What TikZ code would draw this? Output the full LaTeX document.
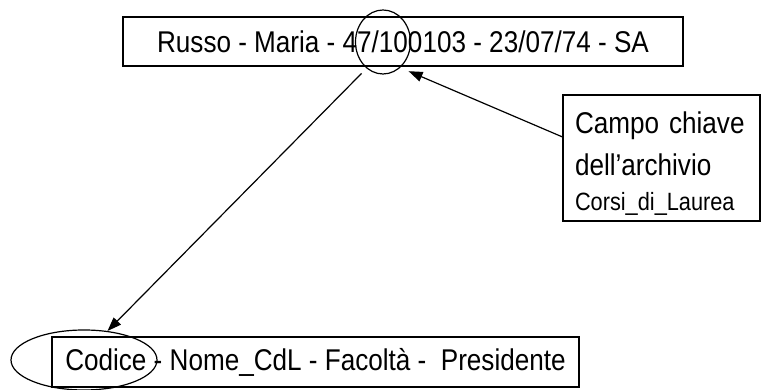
\documentclass[tikz,border=0pt]{standalone}
\usepackage{fontspec}
\setmainfont{Liberation Sans}[FakeStretch=0.87]
\usetikzlibrary{shapes.geometric,arrows.meta}

\begin{document}
\begin{tikzpicture}[x=1pt, y=1pt, line width=1.2pt, >={Triangle[length=14pt, width=10pt]}]
      \useasboundingbox (0,0) rectangle (761,390);
      \node[draw, minimum width=560pt, minimum height=49pt, font=\fontsize{30}{32}\selectfont] (rec) at (403,348.5) {Russo - Maria - 47/100103 - 23/07/74 - SA};
      \node[draw, ellipse, minimum width=55pt, minimum height=64pt, inner sep=0pt] (key) at (383,348) {};

      \node[draw, minimum width=527pt, minimum height=50pt, font=\fontsize{30}{32}\selectfont] (cdl) at (315.5,28) {Codice - Nome\_CdL - Facoltà - \ Presidente};
      \node[draw, ellipse, minimum width=146pt, minimum height=60pt, inner sep=0pt] (codice) at (84,30) {};

      \node[draw, text width=173pt, inner xsep=12pt, minimum height=126pt, align=left, font=\fontsize{30}{42}\selectfont] (campo) at (661.5,232) {\rule{0pt}{32pt}Campo chiave\\ dell’archivio\\[-7pt] {\fontsize{25}{35}\selectfont Corsi\_di\_Laurea}};

      \draw[->, shorten <=7pt] (key.238) -- (codice.51);
      \draw[->, shorten >=9pt] (campo.168) -- (key.304);
    \end{tikzpicture}
\end{document}
